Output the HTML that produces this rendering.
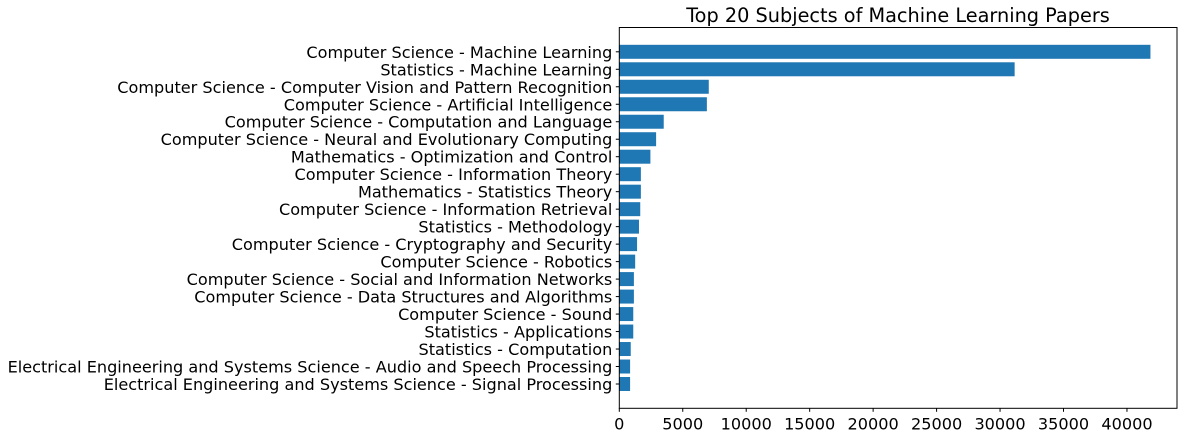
<!DOCTYPE html>
<html><head><meta charset="utf-8"><style>
html,body{margin:0;padding:0;background:#fff;}
svg text{font-family:"DejaVu Sans","Liberation Sans",sans-serif;fill:#000;}
</style></head><body>
<svg id="chart" width="1183" height="437" viewBox="0 0 1183 437" xmlns="http://www.w3.org/2000/svg">
<text x="898" y="22" font-size="19.3" text-anchor="middle">Top 20 Subjects of Machine Learning Papers</text>
<g id="bars"></g><g id="yaxis"></g><g id="xaxis"></g>
<rect x="619.3" y="27.5" width="557.7" height="380.8" fill="none" stroke="#000" stroke-width="1"/>
</svg>
<script>
const categories = ["Computer Science - Machine Learning","Statistics - Machine Learning","Computer Science - Computer Vision and Pattern Recognition","Computer Science - Artificial Intelligence","Computer Science - Computation and Language","Computer Science - Neural and Evolutionary Computing","Mathematics - Optimization and Control","Computer Science - Information Theory","Mathematics - Statistics Theory","Computer Science - Information Retrieval","Statistics - Methodology","Computer Science - Cryptography and Security","Computer Science - Robotics","Computer Science - Social and Information Networks","Computer Science - Data Structures and Algorithms","Computer Science - Sound","Statistics - Applications","Statistics - Computation","Electrical Engineering and Systems Science - Audio and Speech Processing","Electrical Engineering and Systems Science - Signal Processing"];
const values = [41850,31150,7050,6900,3500,2900,2450,1700,1700,1650,1550,1400,1250,1150,1150,1100,1100,900,850,850];
const xTicks = [0,5000,10000,15000,20000,25000,30000,35000,40000];
const NS="http://www.w3.org/2000/svg";
const L=619.3,R=1177,T=27.5,B=408.3;
const xMax=Math.max(...values)*1.05;
const x=v=>L+v/xMax*(R-L);
const n=categories.length;
const yMin=-0.4-(n-0.2)*0.05, yMax=n-0.6+(n-0.2)*0.05;
const y=i=>T+(i-yMin)/(yMax-yMin)*(B-T);
const step=(B-T)/(yMax-yMin);
const gb=document.getElementById('bars'),gy=document.getElementById('yaxis'),gx=document.getElementById('xaxis');
function mk(tag,attrs,parent){const e=document.createElementNS(NS,tag);for(const k in attrs)e.setAttribute(k,attrs[k]);parent.appendChild(e);return e;}
categories.forEach((c,i)=>{
  const r=mk('rect',{x:L,y:y(i)-0.4*step,width:x(values[i])-L,height:0.8*step,fill:'#1f77b4'},gb);
  
  
  const t=mk('line',{x1:L-3.5,x2:L,y1:y(i),y2:y(i),stroke:'#000'},gy);
  
  
  const tx=mk('text',{x:L-7,y:y(i)+6,'font-size':16.1,'text-anchor':'end'},gy);
  tx.textContent=c;
  
  
});
xTicks.forEach(v=>{
  const t=mk('line',{x1:x(v),x2:x(v),y1:B,y2:B+3.5,stroke:'#000'},gx);
  
  
  const tx=mk('text',{x:x(v),y:B+21,'font-size':16.1,'text-anchor':'middle'},gx);
  tx.textContent=v;
  
  
});
</script>
</body></html>
